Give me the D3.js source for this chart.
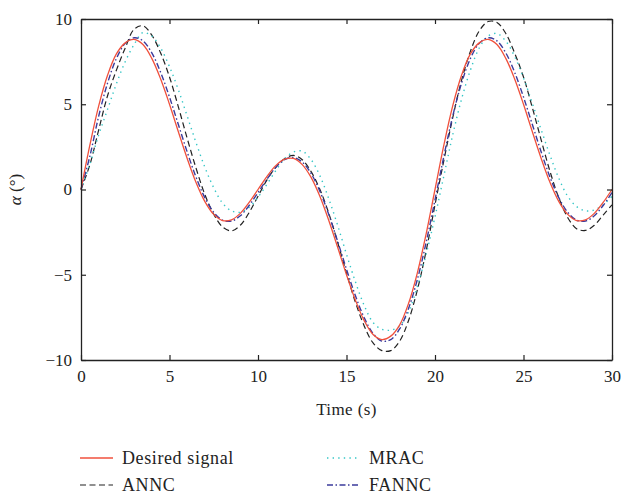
<!DOCTYPE html>
<html>
<head>
<meta charset="utf-8">
<script src="https://cdn.jsdelivr.net/npm/d3@7"></script>
<style>
body { margin: 0; background: #fff; }
svg { display: block; font-family: "Liberation Serif", "DejaVu Serif", serif; }
</style>
</head>
<body>
<svg width="623" height="501"></svg>
<script>
// sample times (s), every 0.5 s
var time = d3.range(0, 30.01, 0.5);

// angle of attack alpha (deg)
var desired = [0, 2.6, 4.9, 6.7, 7.95, 8.6, 8.8, 8.5, 7.69, 6.48, 5.0, 3.39, 1.82, 0.41, -0.71, -1.46, -1.82, -1.78, -1.4, -0.76,
    0, 0.76, 1.4, 1.78, 1.82, 1.46, 0.71, -0.41, -1.82, -3.39, -5.0, -6.48, -7.69, -8.5, -8.8, -8.6, -7.95, -6.7, -4.9, -2.6,
    0, 2.6, 4.9, 6.7, 7.95, 8.6, 8.8, 8.5, 7.69, 6.48, 5.0, 3.39, 1.82, 0.41, -0.71, -1.46, -1.82, -1.78, -1.4, -0.76, 0];
var annc = [0, 1.45, 3.5, 5.5, 7.0, 8.3, 9.4, 9.6, 9.05, 8.0, 6.6, 4.85, 3.0, 1.25, -0.3, -1.45, -2.2, -2.43, -2.1, -1.35,
    -0.4, 0.55, 1.3, 1.8, 2.0, 1.75, 1.05, 0.0, -1.4, -3.1, -4.9, -6.6, -8.0, -9.0, -9.45, -9.45, -8.9, -7.7, -5.9, -3.6,
    -0.9, 1.7, 4.2, 6.4, 8.1, 9.3, 9.85, 9.8, 9.15, 8.0, 6.6, 4.8, 2.9, 1.05, -0.5, -1.65, -2.3, -2.4, -2.1, -1.5, -0.9];
var mrac = [0, 1.5, 3.2, 4.7, 6.2, 7.5, 8.5, 9.2, 9.0, 8.3, 7.2, 5.85, 4.3, 2.75, 1.3, 0.1, -0.8, -1.25, -1.34, -1.05,
    -0.45, 0.3, 1.1, 1.8, 2.2, 2.25, 1.75, 0.8, -0.55, -2.1, -3.8, -5.4, -6.8, -7.8, -8.2, -8.25, -8.0, -7.2, -5.7, -3.8,
    -1.6, 0.8, 3.2, 5.3, 7.0, 8.3, 9.0, 9.15, 8.7, 7.8, 6.55, 5.05, 3.5, 2.0, 0.65, -0.4, -1.0, -1.25, -1.2, -0.9, -0.4];
var fannc = [0, 1.95, 4.3, 6.24, 7.68, 8.57, 8.9, 8.72, 8.01, 6.87, 5.42, 3.81, 2.2, 0.72, -0.49, -1.34, -1.8, -1.85, -1.54, -0.94,
    -0.18, 0.6, 1.29, 1.75, 1.88, 1.61, 0.94, -0.11, -1.47, -3.04, -4.68, -6.22, -7.52, -8.45, -8.89, -8.8, -8.18, -6.99, -5.29, -3.1,
    -0.61, 1.95, 4.3, 6.24, 7.68, 8.57, 8.9, 8.72, 8.01, 6.87, 5.42, 3.81, 2.2, 0.72, -0.49, -1.34, -1.8, -1.85, -1.54, -0.94, -0.18];

var xTicks = [0, 5, 10, 15, 20, 25, 30];
var yTicks = [-10, -5, 0, 5, 10];

d3.select(window).on('load', init);

function init() {

    var series = [
        {name: 'ANNC', values: annc, color: '#222222', dash: '6,3.5', width: 1.2},
        {name: 'MRAC', values: mrac, color: '#35c6c6', dash: '1.4,4.2', width: 1.4},
        {name: 'FANNC', values: fannc, color: '#3b3b9c', dash: '6,2.5,1.5,2.5', width: 1.4},
        {name: 'Desired signal', values: desired, color: '#f0503c', dash: null, width: 1.3}
    ];

    var svg = d3.select('svg');
    var x0 = 81, x1 = 612, y0 = 19, y1 = 360;
    var font = '"Liberation Serif", "DejaVu Serif", serif';

    var xScale = d3.scaleLinear().domain([0, 30]).range([x0, x1]);
    var yScale = d3.scaleLinear().domain([-10, 10]).range([y1, y0]);

    var line = d3.line()
        .x(function(d, i){ return xScale(time[i]); })
        .y(function(d){ return yScale(d); })
        .curve(d3.curveCatmullRom);

    svg.append('g').selectAll('path')
        .data(series)
        .enter()
        .append('path')
        .attr('fill', 'none')
        .attr('stroke', function(d){ return d.color; })
        .attr('stroke-width', function(d){ return d.width; })
        .attr('stroke-dasharray', function(d){ return d.dash; })
        .attr('d', function(d){ return line(d.values); });

    // box with inward ticks
    function styleAxis(g) {
        g.selectAll('.domain').attr('stroke', '#222').attr('stroke-width', 1.3);
        g.selectAll('.tick line').attr('stroke', '#222').attr('stroke-width', 1.2);
        g.selectAll('.tick text').attr('fill', '#222').style('font-size', '17px')
            .style('font-family', font);
    }

    svg.append('g')
        .attr('transform', 'translate(0,' + y1 + ')')
        .call(d3.axisBottom(xScale).tickValues(xTicks).tickSizeInner(-5).tickSizeOuter(0).tickPadding(10))
        .call(styleAxis);
    svg.append('g')
        .attr('transform', 'translate(0,' + y0 + ')')
        .call(d3.axisTop(xScale).tickValues(xTicks).tickSizeInner(-5).tickSizeOuter(0).tickFormat(''))
        .call(styleAxis);
    svg.append('g')
        .attr('transform', 'translate(' + x0 + ',0)')
        .call(d3.axisLeft(yScale).tickValues(yTicks).tickSizeInner(-5).tickSizeOuter(0).tickPadding(9))
        .call(styleAxis);
    svg.append('g')
        .attr('transform', 'translate(' + x1 + ',0)')
        .call(d3.axisRight(yScale).tickValues(yTicks).tickSizeInner(-5).tickSizeOuter(0).tickFormat(''))
        .call(styleAxis);

    // axis titles
    svg.append('text')
        .attr('x', (x0 + x1) / 2)
        .attr('y', 415)
        .attr('text-anchor', 'middle')
        .style('font-size', '17px')
        .style('letter-spacing', '0.4px')
        .attr('fill', '#222')
        .text('Time (s)');

    var ylab = svg.append('text')
        .attr('transform', 'translate(21,' + ((y0 + y1) / 2) + ') rotate(-90)')
        .attr('text-anchor', 'middle')
        .style('font-size', '17px')
        .attr('fill', '#222');
    ylab.append('tspan').style('font-style', 'italic').text('α');
    ylab.append('tspan').text(' (°)');

    // legend: two columns
    var legendItems = [
        {s: series[3], x: 80, y: 458},
        {s: series[1], x: 327, y: 458},
        {s: series[0], x: 80, y: 485},
        {s: series[2], x: 327, y: 485}
    ];
    var leg = svg.append('g').selectAll('g')
        .data(legendItems)
        .enter()
        .append('g')
        .attr('transform', function(d){ return 'translate(' + d.x + ',' + d.y + ')'; });
    leg.append('line')
        .attr('x1', 0).attr('x2', 33)
        .attr('y1', 0).attr('y2', 0)
        .attr('stroke', function(d){ return d.s.color; })
        .attr('stroke-width', function(d){ return d.s.width; })
        .attr('stroke-dasharray', function(d){ return d.s.dash; });
    leg.append('text')
        .attr('x', 42)
        .attr('y', 6)
        .style('font-size', '18px')
        .style('letter-spacing', '0.6px')
        .attr('fill', '#222')
        .text(function(d){ return d.s.name; });
}
</script>
</body>
</html>
